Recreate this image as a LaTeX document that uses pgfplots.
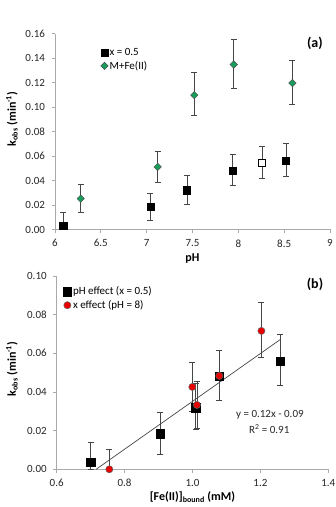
\documentclass[border=0pt]{standalone}
\usepackage{fontspec}
\setmainfont{Carlito}
\usepackage{pgfplots}
\pgfplotsset{compat=1.18}

\definecolor{axisgray}{RGB}{170,170,170}
\definecolor{errgray}{RGB}{70,70,70}
\definecolor{diagreen}{RGB}{24,158,92}
\definecolor{dotred}{RGB}{232,0,0}

\pgfplotsset{
  kpanel/.style={
    scale only axis,
    axis lines*=left,
    axis line style={axisgray, line width=0.8pt, -},
    tick align=outside,
    major tick length=3.5pt,
    tick style={axisgray, line width=0.8pt},
    ticklabel style={font=\fontsize{11}{13}\selectfont, text=black!85},
    xticklabel style={yshift=-3pt},
    yticklabel style={xshift=-3pt},
    clip=false,
    error bars/error bar style={errgray, line width=0.7pt},
    error bars/error mark options={rotate=90, errgray, mark size=3pt, line width=0.7pt},
    legend cell align=left,
  },
  legmark/.style={legend image code/.code={\draw[##1] plot coordinates {(0pt,0pt)};}},
}

\begin{document}
\begin{tikzpicture}
\useasboundingbox (0,0) rectangle (336pt,507pt);

% ---------------- (a) k_obs versus pH ----------------
\begin{axis}[kpanel,
  at={(55pt,277.5pt)}, anchor=south west,
  width=275pt, height=196pt,
  xmin=6, xmax=9, ymin=0, ymax=0.16,
  xtick={6,6.5,7,7.5,8,8.5,9},
  xticklabels={6,6.5,7,7.5,8,8.5,9},
  ytick={0,0.02,0.04,0.06,0.08,0.10,0.12,0.14,0.16},
  yticklabels={0.00,0.02,0.04,0.06,0.08,0.10,0.12,0.14,0.16},
  legend style={at={(0.155,0.935)}, anchor=north west, draw=none, fill=none,
    font=\fontsize{11}{13}\selectfont, row sep=4pt,
    nodes={inner xsep=1.5pt, inner ysep=0pt}},
]
\addplot[only marks, mark=square*, mark size=3.6pt,
  mark options={fill=black, draw=black}, legmark,
  error bars/.cd, y dir=both, y explicit]
  table[x=x, y=y, y error plus=ep, y error minus=em] {
  x     y       ep      em
  6.09  0.0033  0.0106  0.0033
  7.04  0.0183  0.0114  0.0106
  7.44  0.0321  0.0123  0.0114
  7.94  0.0481  0.0131  0.0122
  8.52  0.0563  0.0139  0.0130
};
\addlegendentry{x = 0.5}
\addplot[only marks, mark=square*, mark size=2.6pt,
  mark options={rotate=45, fill=diagreen, draw=black!70, line width=0.5pt}, legmark,
  error bars/.cd, y dir=both, y explicit]
  table[x=x, y=y, y error plus=ep, y error minus=em] {
  x     y       ep      em
  6.28  0.0252  0.0118  0.0111
  7.12  0.0511  0.0131  0.0127
  7.52  0.1097  0.0183  0.0167
  7.95  0.1347  0.0203  0.0191
  8.59  0.1195  0.0185  0.0175
};
\addlegendentry{M+Fe(II)}
% open square: separate run at pH 8.26
\addplot[only marks, mark=square*, mark size=3.6pt, forget plot,
  mark options={fill=white, draw=black, line width=0.6pt},
  error bars/.cd, y dir=both, y explicit]
  table[x=x, y=y, y error plus=ep, y error minus=em] {
  x     y       ep      em
  8.26  0.0545  0.0135  0.0129
};
\node[font=\fontsize{12}{14}\bfseries] at ([yshift=-29.5pt]rel axis cs:0.5,0) {pH};
\node[font=\fontsize{12}{14}\bfseries, rotate=90]
  at ([xshift=-43pt]rel axis cs:0,0.564) {k\textsubscript{obs} (min\textsuperscript{-1})};
\node[font=\fontsize{14}{16}\bfseries] at (rel axis cs:0.945,0.95) {(a)};
\end{axis}

% ---------------- (b) k_obs versus bound Fe(II) ----------------
\begin{axis}[kpanel,
  at={(56.7pt,37.7pt)}, anchor=south west,
  width=271.6pt, height=193.3pt,
  xmin=0.6, xmax=1.4, ymin=0, ymax=0.10,
  xtick={0.6,0.8,1.0,1.2,1.4},
  xticklabels={0.6,0.8,1.0,1.2,1.4},
  ytick={0,0.02,0.04,0.06,0.08,0.10},
  yticklabels={0.00,0.02,0.04,0.06,0.08,0.10},
  legend style={at={(0.012,0.955)}, anchor=north west, draw=none, fill=none,
    font=\fontsize{11}{13}\selectfont, row sep=4pt,
    nodes={inner xsep=1.5pt, inner ysep=0pt}},
]
% linear fit y = 0.12x - 0.09
\addplot[errgray, line width=0.7pt, forget plot] coordinates {(0.716,0) (1.259,0.0672)};
\addplot[only marks, mark=square*, mark size=4.2pt,
  mark options={fill=black, draw=black}, legmark,
  error bars/.cd, y dir=both, y explicit]
  table[x=x, y=y, y error plus=ep, y error minus=em] {
  x      y       ep      em
  0.700  0.0036  0.0104  0.0036
  0.905  0.0184  0.0113  0.0106
  1.009  0.0319  0.0125  0.0110
  1.079  0.0483  0.0134  0.0126
  1.259  0.0560  0.0140  0.0126
};
\addlegendentry{pH effect (x = 0.5)}
\addplot[only marks, mark=*, mark size=3.6pt,
  mark options={fill=dotred, draw=black!60, line width=0.5pt}, legmark,
  error bars/.cd, y dir=both, y explicit]
  table[x=x, y=y, y error plus=ep, y error minus=em] {
  x       y       ep      em
  0.755   0.0000  0.0103  0.0000
  0.9995  0.0426  0.0127  0.0127
  1.013   0.0333  0.0120  0.0120
  1.079   0.0483  0.0134  0.0126
  1.203   0.0716  0.0150  0.0138
};
\addlegendentry{x effect (pH = 8)}
\node[font=\fontsize{11}{13}\selectfont, text=black!85] at (axis cs:1.228,0.0281) {y = 0.12x - 0.09};
\node[font=\fontsize{11}{13}\selectfont, text=black!85] at (axis cs:1.226,0.0206) {R\textsuperscript{2} = 0.91};
\node[font=\fontsize{12}{14}\bfseries] at ([yshift=-27.5pt]rel axis cs:0.5,0) {[Fe(II)]\textsubscript{bound} (mM)};
\node[font=\fontsize{12}{14}\bfseries, rotate=90]
  at ([xshift=-44.7pt]rel axis cs:0,0.519) {k\textsubscript{obs} (min\textsuperscript{-1})};
\node[font=\fontsize{14}{16}\bfseries] at (rel axis cs:0.951,0.959) {(b)};
\end{axis}
\end{tikzpicture}
\end{document}
